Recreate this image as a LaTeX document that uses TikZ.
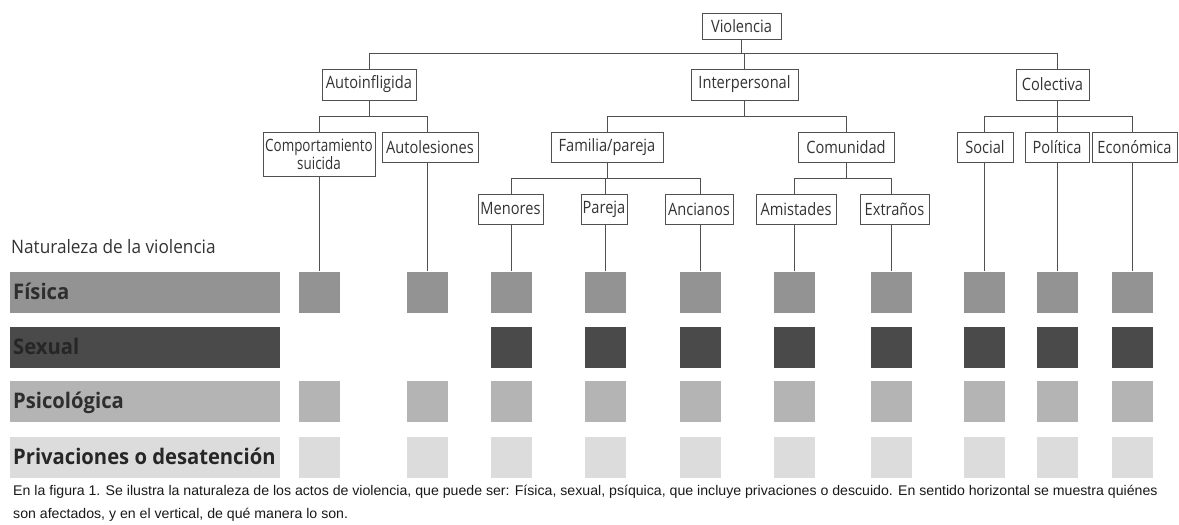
\documentclass[tikz,border=0pt]{standalone}
\usepackage{fontspec}
\newfontfamily\treef{Open Sans}[FakeStretch=0.86]
\newfontfamily\treefn{Open Sans}[FakeStretch=0.79]
\newfontfamily\natf{Open Sans}[FakeStretch=0.93]
\newfontfamily\bandf{Open Sans}[FakeStretch=0.94]
\newfontfamily\capf{Liberation Sans}[FakeStretch=1.01]
\definecolor{linec}{HTML}{505050}
\definecolor{txt}{HTML}{333333}
\definecolor{cF}{HTML}{939393}
\definecolor{cS}{HTML}{4A4A4A}
\definecolor{cP}{HTML}{B4B4B4}
\definecolor{cD}{HTML}{DCDCDC}
\begin{document}
\begin{tikzpicture}[x=1pt,y=-1pt,
  box/.style={draw=linec, line width=1pt, rectangle, inner sep=0pt, text=txt,
    font=\treef\fontsize{17}{16}\selectfont, align=center, minimum height=30pt},
  conn/.style={draw=linec, line width=1pt},
  cell/.style={rectangle, inner sep=0pt, minimum width=41pt, minimum height=41pt},
  band/.style={rectangle, inner sep=0pt, minimum width=270pt, minimum height=41pt},
  bandtxt/.style={anchor=base west, inner sep=0pt, font=\bandf\bfseries\fontsize{21.5}{22}\selectfont},
  captxt/.style={anchor=base west, inner sep=0pt, text=black!90, font=\capf\fontsize{14}{15}\selectfont}
]
\useasboundingbox (0,0) rectangle (1179,525);
\fill[white] (0,0) rectangle (1179,525);

% tree boxes
\node[box, minimum width=79pt, minimum height=26pt] (viol) at (741.5,26) {Violencia};
\node[box, minimum width=94pt, minimum height=31pt] (auto) at (369,84.5) {Autoinfligida};
\node[box, minimum width=107pt, minimum height=31pt] (inter) at (744.5,84.5) {Interpersonal};
\node[box, minimum width=73pt, minimum height=31pt] (col) at (1052.5,84.5) {Colectiva};
\node[box, minimum width=112pt, minimum height=44pt, font=\treefn\fontsize{17}{16}\selectfont] (comp) at (319,154) {Comportamiento\\suicida};
\node[box, minimum width=96pt] (autol) at (430,147) {Autolesiones};
\node[box, minimum width=112pt] (fam) at (607,147) {Familia/pareja};
\node[box, minimum width=96pt] (com) at (846,147) {Comunidad};
\node[box, minimum width=56pt] (soc) at (985,147) {Social};
\node[box, minimum width=64pt] (pol) at (1057,147) {Política};
\node[box, minimum width=85pt] (eco) at (1134.5,147) {Económica};
\node[box, minimum width=65pt] (men) at (510.5,209) {Menores};
\node[box, minimum width=46pt] (par) at (604,209) {Pareja};
\node[box, minimum width=68pt] (anc) at (699,209) {Ancianos};
\node[box, minimum width=80pt] (ami) at (796,209) {Amistades};
\node[box, minimum width=69pt] (ext) at (894.5,209) {Extraños};

% bus levels
\coordinate (b0) at (0,53);
\coordinate (b1) at (0,116);
\coordinate (b2) at (0,178);

% label column
\node[anchor=base west, inner sep=0pt, text=txt, font=\natf\fontsize{18.5}{20}\selectfont] (nat) at (11,253) {Naturaleza de la violencia};

% bands
\node[band, fill=cF] (bF) at (145,292) {};
\node[band, fill=cS] (bS) at (145,347.5) {};
\node[band, fill=cP] (bP) at (145,401.5) {};
\node[band, fill=cD] (bD) at (145,457) {};
\node[bandtxt, text=black!82] (tF) at (13,299) {Física};
\node[bandtxt, text=black!85] (tS) at (13,354.5) {Sexual};
\node[bandtxt, text=black!82] (tP) at (13,408.5) {Psicológica};
\node[bandtxt, text=black!85] (tD) at (13,464) {Privaciones o desatención};

% squares
\foreach \n/\x in {comp/319, autol/427, men/511, par/605, anc/700, ami/794, ext/891, soc/984, pol/1057, eco/1132} {
  \node[cell, fill=cF] (F-\n) at (\x,292) {};
  \node[cell, fill=cP] (P-\n) at (\x,401.5) {};
  \node[cell, fill=cD] (D-\n) at (\x,457) {};
  \draw[conn] (F-\n.north) -- (F-\n.north |- \n.south);
}
\foreach \n/\x in {men/511, par/605, anc/700, ami/794, ext/891, soc/984, pol/1057, eco/1132} {
  \node[cell, fill=cS] (S-\n) at (\x,347.5) {};
}

% connectors
\draw[conn] (viol.south) -- (viol.south |- b0);
\draw[conn] (auto.north) -- (auto.north |- b0) -- (F-pol.north |- b0) -- (F-pol.north |- col.north);
\draw[conn] (inter.north) -- (inter.north |- b0);

\draw[conn] (auto.south) -- (auto.south |- b1);
\draw[conn] (F-comp.north |- comp.north) -- (F-comp.north |- b1) -- (F-autol.north |- b1) -- (F-autol.north |- autol.north);

\draw[conn] (inter.south) -- (inter.south |- b1);
\draw[conn] (fam.north) -- (fam.north |- b1) -- (com.north |- b1) -- (com.north);

\draw[conn] (F-pol.north |- col.south) -- (F-pol.north |- pol.north);
\draw[conn] (F-soc.north |- soc.north) -- (F-soc.north |- b1) -- (F-eco.north |- b1) -- (F-eco.north |- eco.north);

\draw[conn] (fam.south) -- (fam.south |- b2);
\draw[conn] (F-men.north |- men.north) -- (F-men.north |- b2) -- (F-anc.north |- b2) -- (F-anc.north |- anc.north);
\draw[conn] (F-par.north |- b2) -- (F-par.north |- par.north);

\draw[conn] (com.south) -- (com.south |- b2);
\draw[conn] (F-ami.north |- ami.north) -- (F-ami.north |- b2) -- (F-ext.north |- b2) -- (F-ext.north |- ext.north);

% caption
\node[captxt] (cap1) at (13,495) {En la figura 1. Se ilustra la naturaleza de los actos de violencia, que puede ser: Física, sexual, psíquica, que incluye privaciones o descuido. En sentido horizontal se muestra quiénes};
\node[captxt] (cap2) at (13,518) {son afectados, y en el vertical, de qué manera lo son.};
\end{tikzpicture}
\end{document}
